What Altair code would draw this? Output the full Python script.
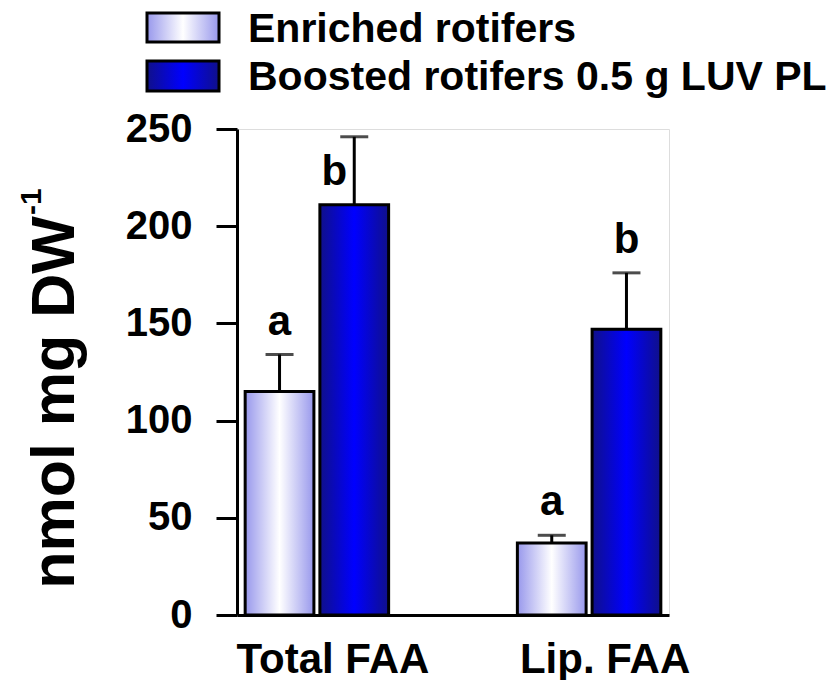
import altair as alt
import pandas as pd

groups = ["Total FAA", "Lip. FAA"]
series = ["Enriched rotifers", "Boosted rotifers 0.5 g LUV PL"]
enriched_mean = [115, 37]
enriched_err = [19, 4]
boosted_mean = [211, 147]
boosted_err = [35, 29]
enriched_letters = ["a", "a"]
boosted_letters = ["b", "b"]
y_ticks = [0, 50, 100, 150, 200, 250]

rows = []
for i, g in enumerate(groups):
    rows.append({"group": g, "series": series[0], "mean": enriched_mean[i],
                 "top": enriched_mean[i] + enriched_err[i], "letter": enriched_letters[i]})
    rows.append({"group": g, "series": series[1], "mean": boosted_mean[i],
                 "top": boosted_mean[i] + boosted_err[i], "letter": boosted_letters[i]})
df = pd.DataFrame(rows)

FONT = "Liberation Sans"

def grad(edge, mid):
    return alt.LinearGradient(
        gradient="linear", x1=0, y1=0, x2=1, y2=0,
        stops=[alt.GradientStop(color=edge, offset=0),
               alt.GradientStop(color=mid, offset=0.5),
               alt.GradientStop(color=edge, offset=1)])

fills = [grad("#9898ec", "#ffffff"), grad("#10108a", "#0000ff")]

X = alt.X("group:N", sort=groups,
          scale=alt.Scale(domain=groups, paddingInner=0.473, paddingOuter=0.03),
          axis=alt.Axis(title=None, labelAngle=0, ticks=False, domain=True,
                        domainColor="black", domainWidth=3,
                        labelFont=FONT, labelFontWeight="bold", labelFontSize=42,
                        labelColor="black", labelBaseline="alphabetic",
                        labelPadding=57, labelOffset=16, labelLimit=600))
XO = alt.XOffset("series:N", sort=series,
                 scale=alt.Scale(domain=series, paddingInner=0.08, paddingOuter=0))
Yscale = alt.Scale(domain=[0, 250], nice=False)
Yaxis = alt.Axis(values=y_ticks, grid=False, title="nmol mg DW",
                 titleFont=FONT, titleFontWeight="bold", titleFontSize=61,
                 titleColor="black", titleAngle=-90, titleAlign="center",
                 titleBaseline="alphabetic", titleX=-164, titleY=273,
                 labelFont=FONT, labelFontWeight="bold", labelFontSize=40,
                 labelColor="black", labelPadding=24,
                 tickSize=21, tickWidth=3, tickColor="black",
                 domainColor="black", domainWidth=3)

base = alt.Chart(df).encode(x=X, xOffset=XO)

layers = []
for s, f in zip(series, fills):
    layers.append(
        base.transform_filter(alt.datum.series == s)
        .mark_bar(fill=f, stroke="black", strokeWidth=3)
        .encode(y=alt.Y("mean:Q", scale=Yscale, axis=Yaxis))
    )

err_rule = base.mark_rule(color="black", strokeWidth=3).encode(
    y=alt.Y("mean:Q"), y2="top:Q")
err_cap = base.mark_tick(color="black", thickness=3, size=28).encode(
    y=alt.Y("top:Q"))

is_side = (alt.datum.group == groups[0]) & (alt.datum.series == series[1])
letters_above = base.transform_filter(~is_side).mark_text(
    font=FONT, fontWeight="bold", fontSize=42, color="black",
    baseline="alphabetic", dy=-20).encode(y="top:Q", text="letter:N")
letters_side = base.transform_filter(is_side).mark_text(
    font=FONT, fontWeight="bold", fontSize=42, color="black",
    baseline="alphabetic", align="right", dx=-7, dy=48).encode(y="top:Q", text="letter:N")

sup = alt.Chart(pd.DataFrame({"t": ["-1"]})).mark_text(
    font=FONT, fontWeight="bold", fontSize=30, color="black", angle=270,
    align="left", baseline="alphabetic").encode(
    x=alt.value(-196), y=alt.value(86), text="t:N")

leg_df = pd.DataFrame({"label": series})
leg_layers = []
leg_y = [(-116, -87, -87), (-68, -38, -39)]
for s, f, (y1, y2, yt) in zip(series, fills, leg_y):
    d = alt.Chart(leg_df).transform_filter(alt.datum.label == s)
    leg_layers.append(d.mark_rect(fill=f, stroke="black", strokeWidth=3).encode(
        x=alt.value(-90), x2=alt.value(-18), y=alt.value(y1), y2=alt.value(y2)))
    leg_layers.append(d.mark_text(font=FONT, fontWeight="bold", fontSize=41,
                                  color="black", align="left",
                                  baseline="alphabetic", limit=700).encode(
        x=alt.value(11), y=alt.value(yt), text="label:N"))

chart = alt.layer(*layers, err_rule, err_cap, letters_above, letters_side,
                  sup, *leg_layers).properties(
    width=432, height=486,
    autosize=alt.AutoSizeParams(type="none"),
    padding={"left": 229, "top": 121, "right": 159, "bottom": 65},
).configure_view(stroke=None).configure(background="white")

chart.save("out.html", embed_options={"renderer": "svg", "actions": False})
